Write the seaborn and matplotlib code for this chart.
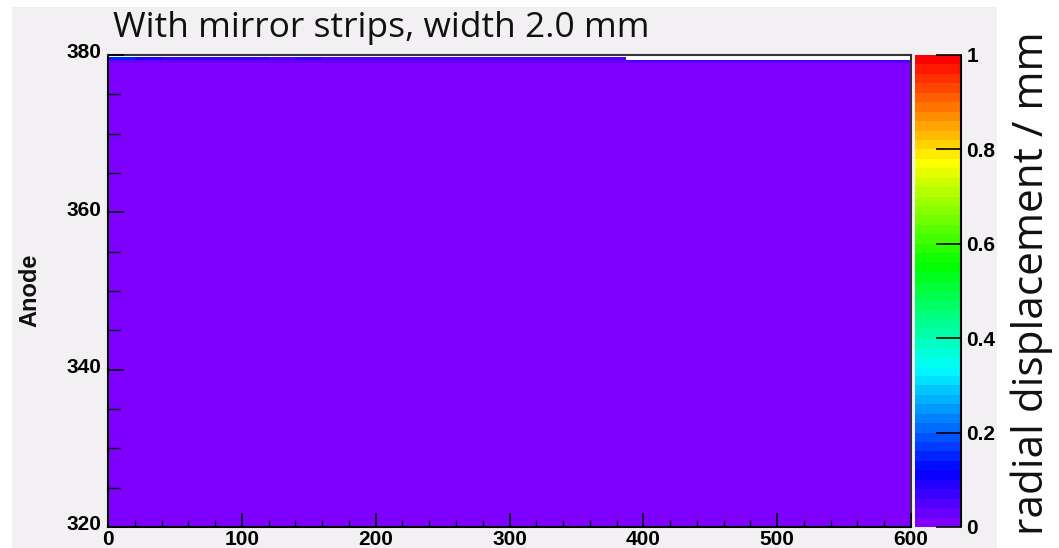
import colorsys
import numpy as np
import pandas as pd
import seaborn as sns
import matplotlib
matplotlib.use("Agg")
import matplotlib.pyplot as plt
import matplotlib.transforms as mtransforms
from matplotlib.colors import ListedColormap
from matplotlib.patches import Rectangle

# ---------------- data ----------------
x_edges = [0, 20, 40, 60, 80, 100, 120, 140, 160, 180, 200, 220, 240, 260, 280,
           300, 320, 340, 360, 387, 400, 420, 440, 460, 480, 500, 520, 540, 560,
           580, 600]
y_edges = [320.0, 379.0, 379.35, 379.7, 380.0]
bulk_value = 0.008                       # whole body of the map (lowest colour)
band_mid = [0.03, 0.02, 0.02, 0.02, 0.02, 0.02, 0.02, 0.02, 0.02, 0.02,
            0.02, 0.02, 0.02, 0.02, 0.02, 0.02, 0.02, 0.02, 0.02, 0.05,
            0.05, 0.05, 0.05, 0.05, 0.05, 0.05, 0.05, 0.05, 0.05, 0.05]
band_top = [0.14, 0.08, 0.07, 0.06, 0.06, 0.06, 0.05, 0.06, 0.05, 0.05,
            0.05, 0.05, 0.05, 0.05, 0.05, 0.05, 0.05, 0.04, 0.04, 0.0,
            0.0, 0.0, 0.0, 0.0, 0.0, 0.0, 0.0, 0.0, 0.0, 0.0]
x_major = [0, 100, 200, 300, 400, 500, 600]
y_major = [320, 340, 360, 380]
cbar_ticks = [0, 0.2, 0.4, 0.6, 0.8, 1.0]
cbar_labels = ["0", "0.2", "0.4", "0.6", "0.8", "1"]
title = "With mirror strips, width 2.0 mm"
ylabel = "Anode"
zlabel = "radial displacement / mm"

# build one weighted point per histogram cell
xs, ys, ws = [], [], []
for i in range(len(x_edges) - 1):
    xc = 0.5 * (x_edges[i] + x_edges[i + 1])
    for j, val in enumerate([bulk_value, band_mid[i], band_top[i], 0.0]):
        yc = 0.5 * (y_edges[j] + y_edges[j + 1])
        xs.append(xc); ys.append(yc); ws.append(val)
df = pd.DataFrame({"x": xs, "y": ys, "w": ws})

# ROOT "pretty" palette: 50 colours, violet -> red
cols = []
for i in range(50):
    hue = 270.0 * (1 - i / 49.0)
    cols.append(colorsys.hls_to_rgb(hue / 360.0, 0.5, 1.0))
cmap = ListedColormap(cols)

# ---------------- figure ----------------
sns.set_theme(style="white")
ARIAL = ["Liberation Sans", "DejaVu Sans"]
HUMAN = ["Open Sans", "DejaVu Sans"]
plt.rcParams["font.family"] = ARIAL
plt.rcParams["axes.axisbelow"] = False
W, H = 1059, 548
fig = plt.figure(figsize=(W / 100, H / 100), dpi=100, facecolor="white")
fig.patches.append(Rectangle((12 / W, 0), (997 - 12) / W, (H - 7) / H,
                             transform=fig.transFigure, facecolor="#f2f0f2",
                             edgecolor="none", zorder=-10))

def fx(px):
    return px / W

def fy(py):
    return 1 - py / H

ax = fig.add_axes([fx(108), fy(527), (911 - 108) / W, (527 - 55) / H])
cax = fig.add_axes([fx(915), fy(527), (961 - 915) / W, (527 - 55) / H])
ax.set_facecolor("white")

sns.histplot(data=df, x="x", y="y", weights="w", bins=[x_edges, y_edges],
             cmap=cmap, vmin=0, vmax=1, cbar=True, cbar_ax=cax, ax=ax)
ax.set_axisbelow(False)
cax.set_axisbelow(False)

ax.set_xlim(0, 600)
ax.set_ylim(320, 380)
ax.set_xlabel("")
ax.set_ylabel("")
ax.set_xticks(x_major)
ax.set_xticks(np.arange(0, 601, 20), minor=True)
ax.set_yticks(y_major)
ax.set_yticks(np.arange(320, 381, 5), minor=True)
ax.set_xticklabels([str(v) for v in x_major], fontsize=15, fontweight="bold",
                   family=ARIAL)
ax.set_yticklabels([str(v) for v in y_major], fontsize=15, fontweight="bold",
                   family=ARIAL)
ax.tick_params(axis="x", which="major", direction="in", length=10, width=1.2,
               pad=2.5, bottom=True, top=False, colors="black")
ax.tick_params(axis="x", which="minor", direction="in", length=5, width=1.0,
               bottom=True, top=False, color="black")
ax.tick_params(axis="y", which="major", direction="in", length=11.5, width=1.2,
               pad=5, left=True, right=False, colors="black")
ax.tick_params(axis="y", which="minor", direction="in", length=8.5, width=1.0,
               left=True, right=False, color="black")
# ROOT puts the y labels slightly above their ticks
shift = mtransforms.ScaledTranslation(0, 4 / 100, fig.dpi_scale_trans)
for lab in ax.get_yticklabels():
    lab.set_transform(lab.get_transform() + shift)
for s in ["left", "bottom"]:
    ax.spines[s].set_color("black")
    ax.spines[s].set_linewidth(1.5)
for s in ["top", "right"]:
    ax.spines[s].set_color("#333333")
    ax.spines[s].set_linewidth(1.5)
    ax.spines[s].set_visible(True)

# colour bar
cb = ax.collections[0].colorbar
cb.set_ticks(cbar_ticks)
cb.set_ticklabels(cbar_labels)
cb.outline.set_visible(False)
cax.tick_params(axis="y", which="major", direction="in", length=18, width=1.2,
                pad=4, right=True, left=False, labelsize=15, colors="black")
for lab in cax.get_yticklabels():
    lab.set_fontweight("bold")
    lab.set_family(ARIAL)
cax.minorticks_off()
cax.plot([1, 1], [0, 1], transform=cax.transAxes, color="black", lw=1.5,
         clip_on=False)

fig.text(fx(113), fy(37), title, fontsize=25.5, family=HUMAN,
         ha="left", va="baseline", color="#111111")
fig.text(fx(30), fy(290), ylabel, fontsize=17, fontweight="bold", rotation=90,
         family=ARIAL, ha="center", va="center", color="#111111")
fig.text(fx(1032), fy(283), zlabel, fontsize=30.5, family=HUMAN,
         rotation=90, ha="center", va="center", color="#111111")

fig.savefig("out.png", dpi=100, facecolor="white")
